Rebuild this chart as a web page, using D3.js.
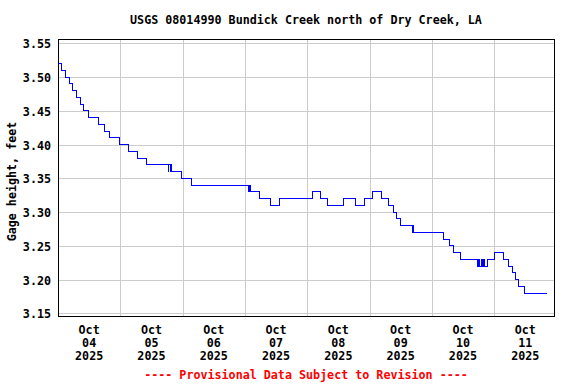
<!DOCTYPE html>
<html><head><meta charset="utf-8">
<script src="https://cdn.jsdelivr.net/npm/d3@7"></script>
<style>
html,body{margin:0;padding:0;background:#fff;}
svg{display:block;}
text{font-family:"DejaVu Sans Mono","Liberation Mono",monospace;font-weight:bold;font-size:11.7px;fill:#000;}
</style></head>
<body>
<script>
const title = "USGS 08014990 Bundick Creek north of Dry Creek, LA";
const yLabel = "Gage height, feet";
const footer = "---- Provisional Data Subject to Revision ----";
const yTicks = [3.15, 3.20, 3.25, 3.30, 3.35, 3.40, 3.45, 3.50, 3.55];
const dayLabels = ["2025-10-04","2025-10-05","2025-10-06","2025-10-07","2025-10-08","2025-10-09","2025-10-10","2025-10-11"];
const gridDays = ["2025-10-05","2025-10-06","2025-10-07","2025-10-08","2025-10-09","2025-10-10","2025-10-11"];

// change points of gage height (time, value)
const times = [
"2025-10-04T00:00","2025-10-04T01:15","2025-10-04T03:00","2025-10-04T04:15","2025-10-04T05:30",
"2025-10-04T07:15","2025-10-04T08:45","2025-10-04T10:00","2025-10-04T11:45","2025-10-04T15:45",
"2025-10-04T18:00","2025-10-04T20:00","2025-10-04T23:30","2025-10-05T03:00","2025-10-05T06:30",
"2025-10-05T10:15","2025-10-05T18:30","2025-10-05T18:45","2025-10-05T19:15","2025-10-05T19:30",
"2025-10-05T19:45","2025-10-05T23:45","2025-10-06T03:30","2025-10-07T01:30","2025-10-07T01:45",
"2025-10-07T02:00","2025-10-07T05:30","2025-10-07T09:45","2025-10-07T13:30","2025-10-08T02:00",
"2025-10-08T05:15","2025-10-08T08:00","2025-10-08T14:00","2025-10-08T18:30","2025-10-08T22:15",
"2025-10-09T01:15","2025-10-09T04:30","2025-10-09T07:15","2025-10-09T09:15","2025-10-09T10:15",
"2025-10-09T11:45","2025-10-09T16:30","2025-10-09T16:45","2025-10-09T17:00","2025-10-10T04:30",
"2025-10-10T06:45","2025-10-10T08:30","2025-10-10T11:00","2025-10-10T17:30","2025-10-10T18:00",
"2025-10-10T18:30","2025-10-10T19:00","2025-10-10T19:30","2025-10-10T20:00","2025-10-10T20:15",
"2025-10-10T21:30","2025-10-11T00:00","2025-10-11T03:30","2025-10-11T05:30","2025-10-11T07:00",
"2025-10-11T08:15","2025-10-11T09:30","2025-10-11T11:45","2025-10-11T20:15"
];
const values = [
3.52,3.51,3.50,3.49,3.48,
3.47,3.46,3.45,3.44,3.43,
3.42,3.41,3.40,3.39,3.38,
3.37,3.36,3.37,3.36,3.37,
3.36,3.35,3.34,3.33,3.34,
3.33,3.32,3.31,3.32,3.33,
3.32,3.31,3.32,3.31,3.32,
3.33,3.32,3.31,3.30,3.29,
3.28,3.27,3.28,3.27,3.26,
3.25,3.24,3.23,3.22,3.23,
3.22,3.23,3.22,3.23,3.22,
3.23,3.24,3.23,3.22,3.21,
3.20,3.19,3.18,3.18
];

const W = 576, H = 384;
const L = 58, R = 554, T = 39, B = 316;
const parse = d3.utcParse("%Y-%m-%dT%H:%M");
const parseDay = d3.utcParse("%Y-%m-%d");
const data = times.map((t,i)=>({t:parse(t), v:values[i]}));

const x = d3.scaleUtc()
  .domain([parseDay("2025-10-04"), new Date(parseDay("2025-10-04").getTime() + (R-L)/62.3*86400000)])
  .range([L, R]);
const y = d3.scaleLinear().domain([3.15, 3.55]).range([313.3, 43.3]);

const svg = d3.select("body").append("svg").attr("width", W).attr("height", H);

// grid
svg.append("g").selectAll("line").data(yTicks).join("line")
  .attr("x1", L).attr("x2", R)
  .attr("y1", d=>Math.round(y(d))+0.5).attr("y2", d=>Math.round(y(d))+0.5)
  .attr("stroke", "#cccccc").attr("stroke-width", 1);
svg.append("g").selectAll("line").data(gridDays).join("line")
  .attr("x1", d=>Math.round(x(parseDay(d)))+0.5).attr("x2", d=>Math.round(x(parseDay(d)))+0.5)
  .attr("y1", T).attr("y2", B)
  .attr("stroke", "#cccccc").attr("stroke-width", 1);

// data line
const line = d3.line().x(d=>x(d.t)).y(d=>y(d.v)).curve(d3.curveStepAfter);
svg.append("path").datum(data).attr("d", line)
  .attr("fill", "none").attr("stroke", "#0000ff").attr("stroke-width", 1)
  .attr("shape-rendering", "crispEdges");

// frame
svg.append("rect").attr("x", L+0.5).attr("y", T+0.5).attr("width", R-L).attr("height", B-T)
  .attr("fill", "none").attr("stroke", "#000").attr("stroke-width", 1);

// y tick labels
svg.append("g").selectAll("text").data(yTicks).join("text")
  .attr("x", 51).attr("y", d=>y(d)+5)
  .attr("text-anchor", "end")
  .text(d=>d3.format(".2f")(d));

// x labels
const fmtMon = d3.utcFormat("%b"), fmtDay = d3.utcFormat("%d"), fmtYr = d3.utcFormat("%Y");
const xl = svg.append("g").selectAll("text").data(dayLabels).join("text")
  .attr("text-anchor", "middle")
  .attr("transform", d=>`translate(${x(new Date(parseDay(d).getTime()+43200000))},0)`);
xl.append("tspan").attr("x", 0).attr("y", 334).text(d=>fmtMon(parseDay(d)));
xl.append("tspan").attr("x", 0).attr("y", 347).text(d=>fmtDay(parseDay(d)));
xl.append("tspan").attr("x", 0).attr("y", 360).text(d=>fmtYr(parseDay(d)));

// title
svg.append("text").attr("x", (L+R)/2).attr("y", 24).attr("text-anchor", "middle").text(title);
// y label
svg.append("text").attr("transform", `translate(16,${(T+B)/2+4}) rotate(-90)`)
  .attr("text-anchor", "middle").text(yLabel);
// footer
svg.append("text").attr("x", (L+R)/2).attr("y", 379).attr("text-anchor", "middle")
  .style("fill", "#ff0000").text(footer);
</script>
</body></html>
